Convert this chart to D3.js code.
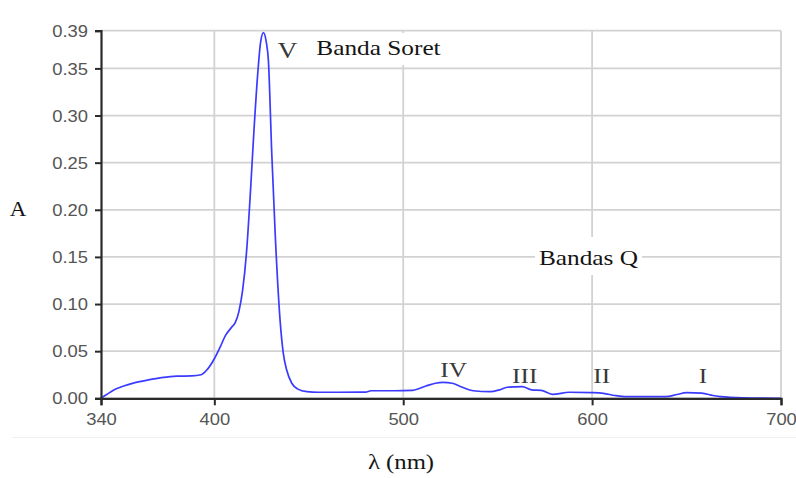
<!DOCTYPE html>
<html>
<head>
<meta charset="utf-8">
<script src="https://cdn.jsdelivr.net/npm/d3@7"></script>
<style>
  body { margin: 0; background: #fff; }
  svg { display: block; }
</style>
</head>
<body>
<div id="chart"></div>
<script>
// absorbance spectrum
var wavelength = [340, 343, 347, 352, 358, 365, 372, 380, 388, 393, 396, 400, 403, 406, 409, 411, 413, 415, 417, 419,
                  421, 423, 424.5, 426, 427.5, 428.6, 430.4, 432.3, 434.8, 436.5, 438.3, 441, 444, 449, 455, 465, 480, 483,
                  495, 505, 512, 517, 521, 526, 531, 537, 546, 551, 555, 563, 568, 573, 579, 588, 600, 606, 612, 618,
                  639, 645, 650, 658, 664, 668, 680, 700];
var absorbance = [0, 0.004, 0.009, 0.013, 0.0166, 0.0195, 0.0219, 0.0235, 0.0237, 0.025, 0.030, 0.042, 0.054, 0.067, 0.075, 0.080, 0.092, 0.115, 0.154, 0.215,
                  0.285, 0.345, 0.378, 0.388, 0.378, 0.359, 0.26, 0.171, 0.083, 0.048, 0.030, 0.016, 0.010, 0.007, 0.0064, 0.0064, 0.0065, 0.008,
                  0.008, 0.0085, 0.013, 0.016, 0.017, 0.016, 0.012, 0.008, 0.007, 0.009, 0.0117, 0.0123, 0.009, 0.0085, 0.0042, 0.0064, 0.006, 0.0053, 0.003, 0.0017,
                  0.0017, 0.004, 0.006, 0.0055, 0.003, 0.0017, 0.0005, 0];

var xTicks = [340, 400, 500, 600, 700];
var xGrid = [400, 500, 600, 700];
var yTicks = [0, 0.05, 0.10, 0.15, 0.20, 0.25, 0.30, 0.35, 0.39];

// band labels: text, wavelength, absorbance just under the letters
var bandNames = ["V", "IV", "III", "II", "I"];
var bandX = [438.7, 526.7, 564.3, 605.1, 658.7];
var bandY = [0.3525, 0.0141, 0.0077, 0.0077, 0.0077];

var W = 796, H = 478;
var stretch = 1.15;   // text in the picture is wider than normal

var x = d3.scaleLinear().domain([340, 700]).range([101, 781]);
var y = d3.scaleLinear().domain([0, 0.39]).range([398.3, 30.7]);

var svg = d3.select("#chart")
            .append("svg")
            .attr("width", W)
            .attr("height", H);

// faint separator under the axis labels
svg.append("line")
   .attr("x1", 12).attr("x2", W)
   .attr("y1", 437.5).attr("y2", 437.5)
   .attr("stroke", "#efefef")
   .attr("stroke-width", 1);

// grid
svg.selectAll("line.hgrid")
   .data(yTicks)
   .enter()
   .append("line")
   .attr("class", "hgrid")
   .attr("x1", x(340)).attr("x2", x(700))
   .attr("y1", function(d) { return y(d); })
   .attr("y2", function(d) { return y(d); })
   .attr("stroke", "#d2d2d2")
   .attr("stroke-width", 1.8);

svg.selectAll("line.vgrid")
   .data(xGrid)
   .enter()
   .append("line")
   .attr("class", "vgrid")
   .attr("x1", function(d) { return x(d); })
   .attr("x2", function(d) { return x(d); })
   .attr("y1", y(0.39)).attr("y2", y(0))
   .attr("stroke", "#d2d2d2")
   .attr("stroke-width", 1.8);

// boxed labels hide the grid behind them
function boxLabel(txt, cx, base, x0, x1, y0, y1) {
    svg.append("rect")
       .attr("x", x0).attr("y", y0)
       .attr("width", x1 - x0).attr("height", y1 - y0)
       .attr("fill", "#fff");
    svg.append("text")
       .attr("transform", "translate(" + cx + "," + base + ") scale(" + stretch + ",1)")
       .attr("text-anchor", "middle")
       .style("font-family", "'Liberation Serif', 'Times New Roman', serif")
       .style("font-size", "22px")
       .style("fill", "#141414")
       .text(txt);
}
boxLabel("Banda Soret", 378.5, 55, 312, 446, 33, 65);
boxLabel("Bandas Q", 588.5, 265, 535, 642, 237, 275);

// spectrum
var line = d3.line()
             .x(function(d) { return x(d[0]); })
             .y(function(d) { return y(d[1]); })
             .curve(d3.curveMonotoneX);

svg.append("path")
   .datum(d3.zip(wavelength, absorbance))
   .attr("d", line)
   .attr("fill", "none")
   .attr("stroke", "#3b3bff")
   .attr("stroke-width", 1.7);

// axes
var yAxis = svg.append("g")
               .attr("transform", "translate(" + x(340) + ",0)")
               .call(d3.axisLeft(y).tickValues(yTicks).tickSize(6).tickPadding(7).tickFormat(d3.format(".2f")));
var xAxis = svg.append("g")
               .attr("transform", "translate(0," + y(0) + ")")
               .call(d3.axisBottom(x).tickValues(xTicks).tickSize(7).tickPadding(8).tickFormat(d3.format("d")));

[yAxis, xAxis].forEach(function(g) {
    g.select(".domain").attr("stroke", "#2a2a2a").attr("stroke-width", 2.2);
    g.selectAll(".tick line").attr("stroke", "#2a2a2a").attr("stroke-width", 2);
    g.selectAll(".tick text")
     .style("font-family", "'Liberation Sans', Arial, sans-serif")
     .style("font-size", "16px")
     .style("fill", "#555");
});
yAxis.selectAll(".tick text")
     .attr("x", -13 / stretch)
     .attr("dy", "0.35em")
     .attr("transform", "scale(" + stretch + ",1)");
xAxis.selectAll(".tick text")
     .attr("transform", "scale(" + stretch + ",1)");

// roman numerals above the bands
svg.selectAll("text.band")
   .data(bandNames)
   .enter()
   .append("text")
   .attr("class", "band")
   .attr("transform", function(d, i) {
       return "translate(" + x(bandX[i]) + "," + (y(bandY[i]) - 8) + ") scale(" + stretch + ",1)";
   })
   .attr("text-anchor", "middle")
   .style("font-family", "'Liberation Serif', 'Times New Roman', serif")
   .style("font-size", function(d) { return d == "V" ? "24px" : "22px"; })
   .style("fill", "#383838")
   .text(function(d) { return d; });

// axis titles
svg.append("text")
   .attr("transform", "translate(18,216) scale(" + stretch + ",1)")
   .attr("text-anchor", "middle")
   .style("font-family", "'Liberation Serif', 'Times New Roman', serif")
   .style("font-size", "20px")
   .style("fill", "#141414")
   .text("A");

svg.append("text")
   .attr("transform", "translate(401,469) scale(" + stretch + ",1)")
   .attr("text-anchor", "middle")
   .style("font-family", "'Liberation Serif', 'Times New Roman', serif")
   .style("font-size", "21.5px")
   .style("fill", "#141414")
   .text("λ (nm)");
</script>
</body>
</html>
